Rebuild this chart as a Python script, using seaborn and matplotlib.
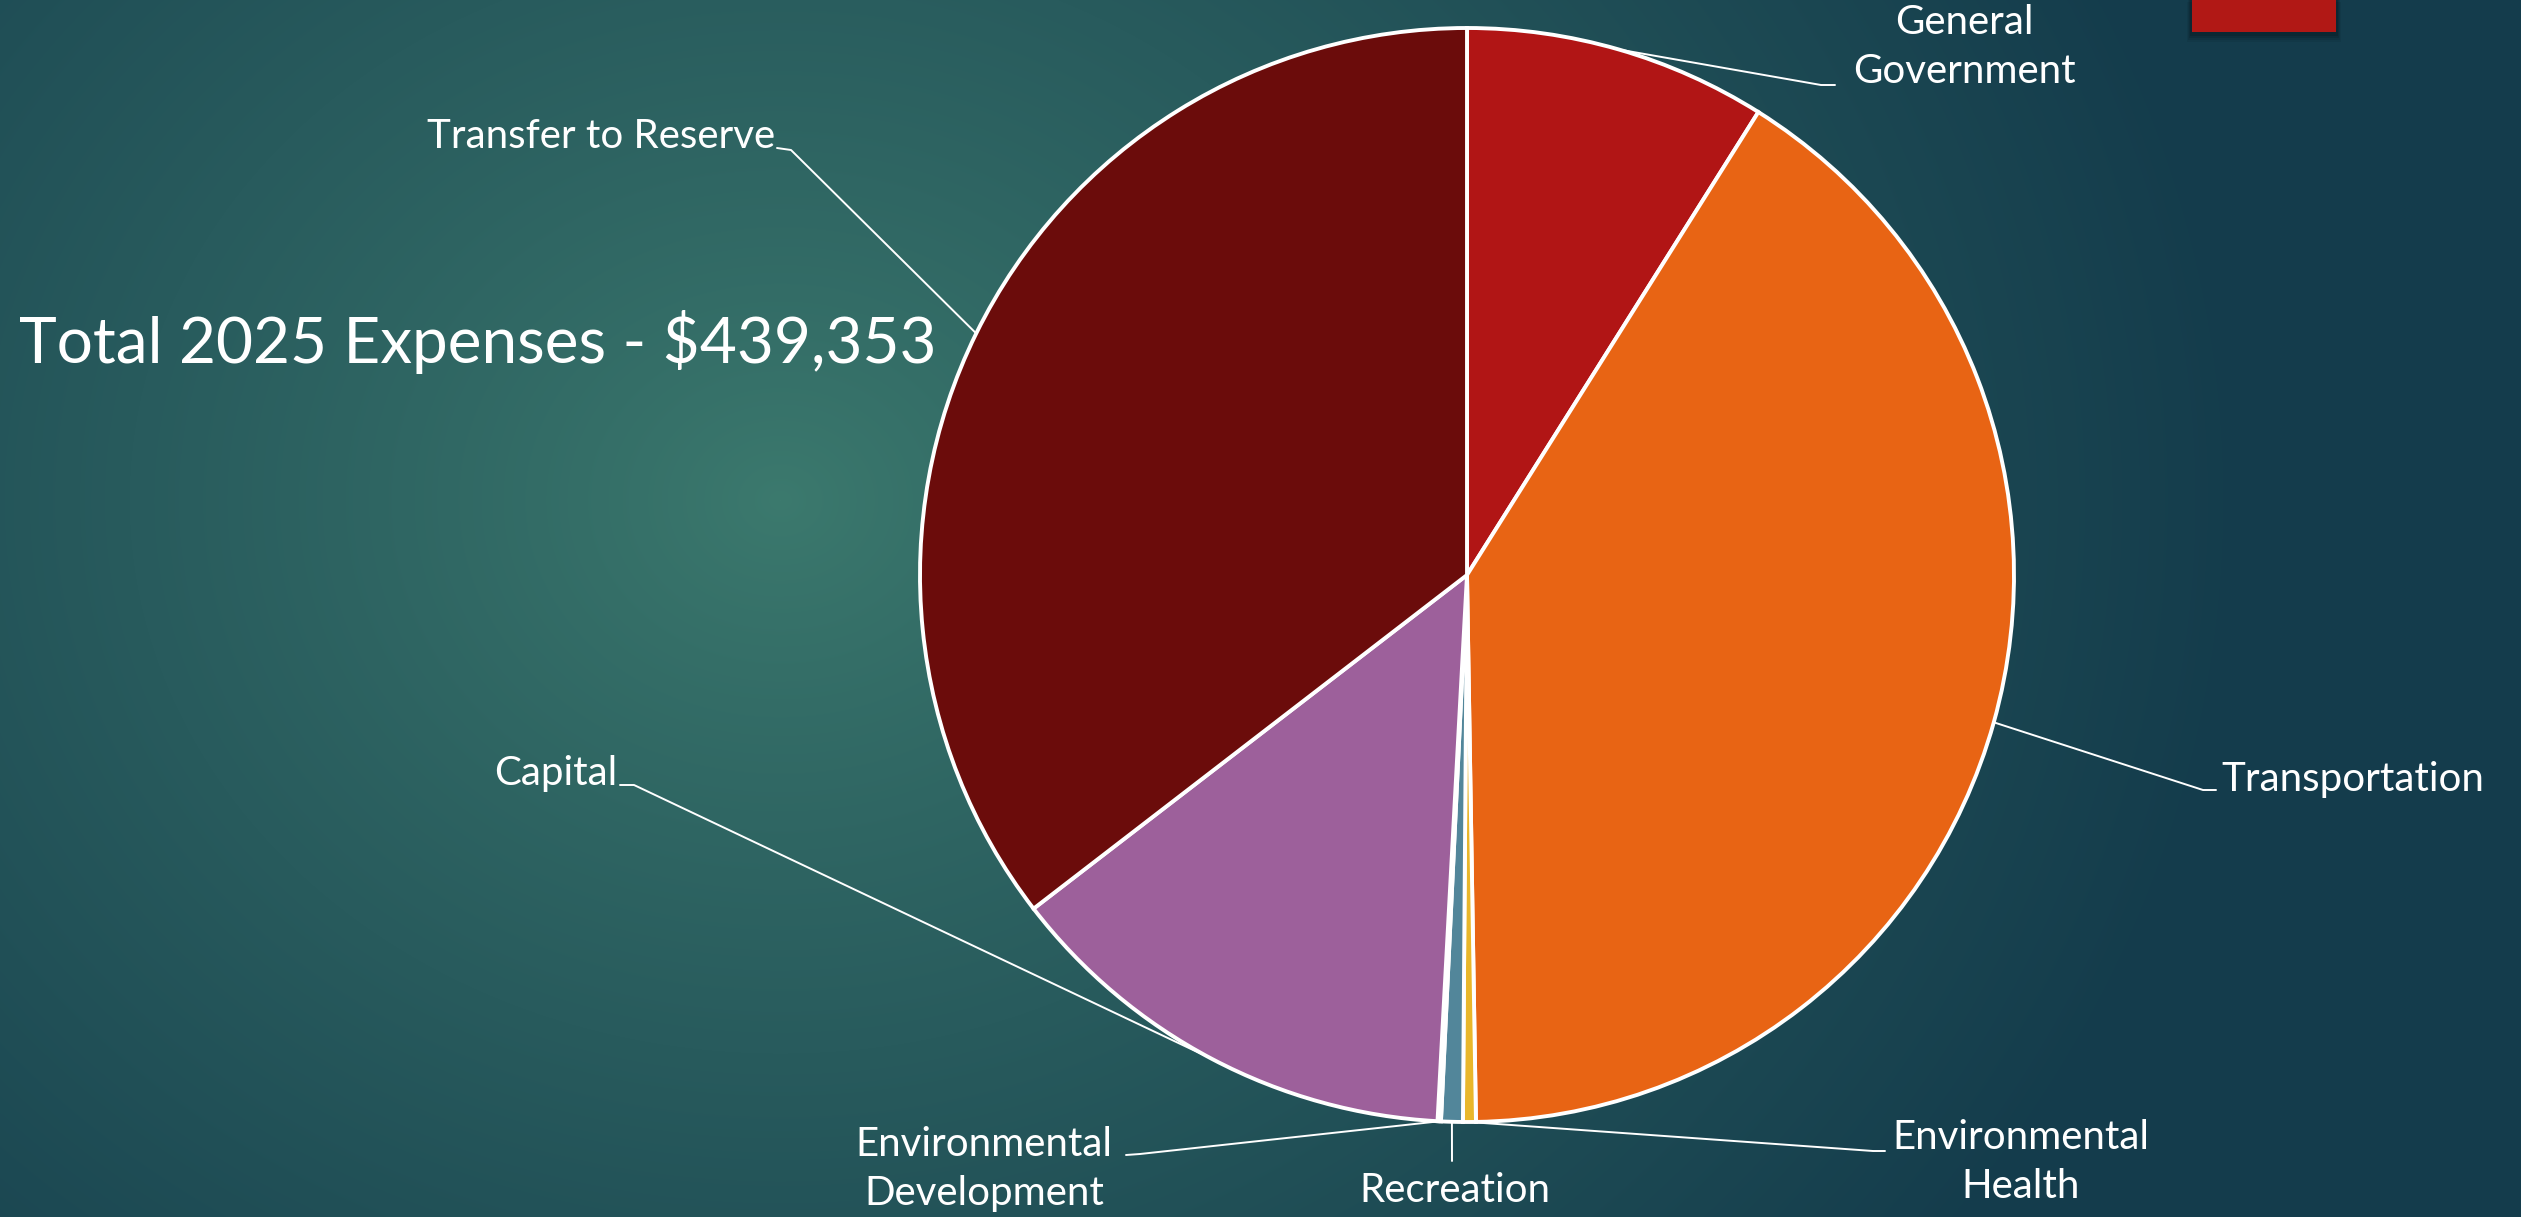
import numpy as np
import matplotlib
matplotlib.use("Agg")
import matplotlib.pyplot as plt
import matplotlib.patches as mpatches
import seaborn as sns

# data
categories = ['General Government', 'Transportation', 'Environmental Health', 'Recreation',
              'Environmental Development', 'Capital', 'Transfer to Reserve']
expenses = [39280, 179250, 1670, 2810, 440, 60190, 155713]
label_text = ['General\nGovernment', 'Transportation', 'Environmental\nHealth', 'Recreation',
              'Environmental\nDevelopment', 'Capital', 'Transfer to Reserve']
slice_colors = ['#B11515', '#E86414', '#E9B72B', '#52869A', '#3E7F8C', '#9D609B', '#6B0C0B']
title = 'Total 2025 Expenses - $439,353'

W, H = 2521, 1217
CX, CY, R = 1467, 575, 547  # pie centre / radius in image pixels (y down)


def img(x, y):
    # image pixel coords (y down) -> axes data coords (y up)
    return x, H - y


# label placement: text anchor, ha, elbow point, leader end (image pixels)
label_layout = {
    'General Government': dict(text=(1964, 47), ha='center', elbow=(1821, 85), end=(1835, 85)),
    'Transportation': dict(text=(2221, 780), ha='left', elbow=(2203, 790), end=(2216, 790)),
    'Environmental Health': dict(text=(2021, 1162), ha='center', elbow=(1873, 1151), end=(1885, 1151)),
    'Recreation': dict(text=(1455, 1190), ha='center', elbow=(1452, 1161), end=(1452, 1161)),
    'Environmental Development': dict(text=(984, 1169), ha='center', elbow=(1140, 1154), end=(1126, 1155)),
    'Capital': dict(text=(617, 773), ha='right', elbow=(634, 785), end=(620, 785)),
    'Transfer to Reserve': dict(text=(775, 137), ha='right', elbow=(791, 150), end=(777, 148)),
}

sns.set_style('white')
plt.rcParams['font.family'] = ['Lato', 'DejaVu Sans']

fig = plt.figure(figsize=(W / 100, H / 100), dpi=100)
ax = fig.add_axes([0, 0, 1, 1])

# background radial gradient
yy, xx = np.mgrid[0:H, 0:W]
d = np.hypot((xx - 780) * 0.85, yy - 500)
f = np.clip(d / 1250.0, 0, 1) ** 0.85
inner = np.array([60, 122, 110]) / 255.0
outer = np.array([20, 60, 76]) / 255.0
bg = inner[None, None, :] + (outer - inner)[None, None, :] * f[..., None]
ax.imshow(bg, extent=(0, W, 0, H), origin='upper', zorder=0, aspect='auto')

wedges, _ = ax.pie(expenses, colors=slice_colors, startangle=90, counterclock=False,
                   center=img(CX, CY), radius=R,
                   wedgeprops=dict(edgecolor='white', linewidth=2.8))
for w in wedges:
    w.set_zorder(2)

ax.set_xlim(0, W)
ax.set_ylim(0, H)
ax.set_aspect('equal')
ax.axis('off')

# leader lines + labels
total = float(sum(expenses))
cum = 0.0
for cat, val, txt in zip(categories, expenses, label_text):
    mid = 90 - 360.0 * (cum + val / 2.0) / total
    cum += val
    px = CX + R * np.cos(np.radians(mid))
    py = CY - R * np.sin(np.radians(mid))
    lay = label_layout[cat]
    xs = [px, lay['elbow'][0], lay['end'][0]]
    ys = [H - py, H - lay['elbow'][1], H - lay['end'][1]]
    ax.plot(xs, ys, color='white', lw=1.4, zorder=3)
    tx, ty = img(*lay['text'])
    ax.text(tx, ty, txt, ha=lay['ha'], va='center', color='white', fontsize=29,
            linespacing=1.38, zorder=4)

ax.text(*img(19, 342), title, ha='left', va='center', color='white', fontsize=46, zorder=4)

# red decorative block top-right with soft shadow
for i, a in enumerate([0.06, 0.08, 0.1, 0.12]):
    off = 10 - 2 * i
    ax.add_patch(mpatches.Rectangle(img(2192 - off / 2, 32 + off), 144 + off, 40,
                                    facecolor='black', alpha=a, lw=0, zorder=5))
ax.add_patch(mpatches.Rectangle(img(2192, 32), 144, 40, facecolor='#B11815', lw=0, zorder=6))

fig.savefig('out.png', dpi=100)
